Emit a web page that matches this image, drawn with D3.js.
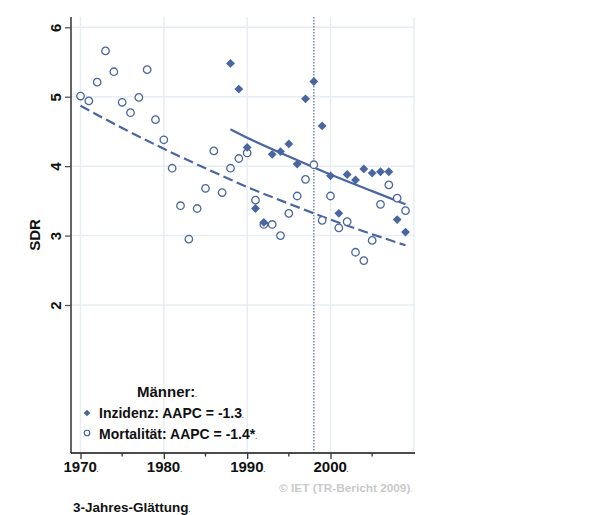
<!DOCTYPE html>
<html>
<head>
<meta charset="utf-8">
<script src="https://cdn.jsdelivr.net/npm/d3@7"></script>
<style>
  html, body { margin: 0; padding: 0; background: #fff; }
  svg, svg text { font-family: "Liberation Sans", Arial, sans-serif; }
  svg { display: block; }
</style>
</head>
<body>
<div id="chart"></div>
<script>
// Mortalität (open circles), 1970-2009
const mortYears = [1970, 1971, 1972, 1973, 1974, 1975, 1976, 1977, 1978, 1979,
                   1980, 1981, 1982, 1983, 1984, 1985, 1986, 1987, 1988, 1989,
                   1990, 1991, 1992, 1993, 1994, 1995, 1996, 1997, 1998, 1999,
                   2000, 2001, 2002, 2003, 2004, 2005, 2006, 2007, 2008, 2009];
const mortValues = [5.01, 4.94, 5.21, 5.66, 5.36, 4.92, 4.77, 4.99, 5.39, 4.67,
                    4.38, 3.97, 3.43, 2.95, 3.39, 3.68, 4.22, 3.62, 3.97, 4.11,
                    4.19, 3.51, 3.16, 3.16, 3.00, 3.32, 3.57, 3.81, 4.02, 3.22,
                    3.57, 3.11, 3.20, 2.76, 2.64, 2.93, 3.45, 3.73, 3.54, 3.36];

// Inzidenz (filled diamonds), 1988-2009
const incYears = [1988, 1989, 1990, 1991, 1992, 1993, 1994, 1995, 1996, 1997, 1998,
                  1999, 2000, 2001, 2002, 2003, 2004, 2005, 2006, 2007, 2008, 2009];
const incValues = [5.48, 5.11, 4.27, 3.39, 3.19, 4.17, 4.21, 4.32, 4.03, 4.97, 5.22,
                   4.58, 3.86, 3.32, 3.88, 3.80, 3.96, 3.90, 3.92, 3.92, 3.23, 3.05];

// trend curves
const mortTrendYears = [1970, 1975, 1980, 1985, 1990, 1995, 2000, 2005, 2009];
const mortTrendValues = [4.87, 4.55, 4.25, 3.97, 3.70, 3.46, 3.23, 3.02, 2.86];
const incTrendYears = [1988, 1990, 1995, 2000, 2005, 2009];
const incTrendValues = [4.53, 4.41, 4.14, 3.88, 3.64, 3.45];

const xMajor = [1970, 1980, 1990, 2000];
const xMinor = [1975, 1985, 1995, 2005];
const xGrid = [1970, 1980, 1990, 2000, 2010];
const yTicks = [2, 3, 4, 5, 6];
const markYear = 1998;

const legendTitle = "Männer:";
const legendLabels = ["Inzidenz: AAPC = -1.3", "Mortalität: AAPC = -1.4*"];
const yTitle = "SDR";
const footLeft = "3-Jahres-Glättung";
const footRight = "© IET (TR-Bericht 2009)";

const W = 592, H = 515;
const blue = "#4a66a0";
const font = "'Liberation Sans', Arial, sans-serif";

const svg = d3.select("#chart").append("svg")
  .attr("width", W).attr("height", H)
  .attr("font-family", font);

const x = d3.scaleLinear().domain([1970, 2000]).range([80.5, 330.5]);
const y = d3.scaleLinear().domain([2, 6]).range([305, 27.3]);
const plot = { left: 71, right: 415, top: 17, bottom: 453 };

// grid
svg.append("g").selectAll("line").data(xGrid).join("line")
  .attr("x1", d => x(d)).attr("x2", d => x(d))
  .attr("y1", plot.top).attr("y2", plot.bottom)
  .attr("stroke", "#e7eef2").attr("stroke-width", 1.5);
svg.append("g").selectAll("line").data(yTicks).join("line")
  .attr("x1", plot.left).attr("x2", plot.right)
  .attr("y1", d => y(d)).attr("y2", d => y(d))
  .attr("stroke", "#e7eef2").attr("stroke-width", 1.5);

// vertical marker at 1998
svg.append("line")
  .attr("x1", x(markYear)).attr("x2", x(markYear))
  .attr("y1", plot.top).attr("y2", plot.bottom)
  .attr("stroke", "#7088b8").attr("stroke-width", 1.5)
  .attr("stroke-dasharray", "1.5,1.5");

// axes
const addDot = sel => sel.append("tspan").attr("font-size", 6).text(".");

const yAxis = svg.append("g")
  .attr("transform", `translate(${plot.left},0)`)
  .call(d3.axisLeft(y).tickValues(yTicks).tickSize(6).tickPadding(8).tickFormat(d3.format("d")))
  .attr("font-family", font).attr("font-size", 15);
yAxis.select(".domain").attr("d", `M0,${plot.top}V${plot.bottom}`).attr("stroke", "#111").attr("stroke-width", 1.3);
yAxis.selectAll(".tick line").attr("stroke", "#555").attr("stroke-width", 1.3);
yAxis.selectAll(".tick text")
  .attr("transform", "rotate(-90)")
  .attr("x", 0).attr("y", -10).attr("dy", 0)
  .attr("text-anchor", "middle")
  .attr("font-size", 15).attr("font-weight", "bold").attr("fill", "#111");

const xAxis = svg.append("g")
  .attr("transform", `translate(0,${plot.bottom})`)
  .call(d3.axisBottom(x).tickValues(xMajor).tickSize(6).tickPadding(4).tickFormat(d3.format("d")))
  .attr("font-family", font).attr("font-size", 15);
xAxis.select(".domain").attr("d", `M${plot.left},0H${plot.right}`).attr("stroke", "#111").attr("stroke-width", 1.3);
xAxis.selectAll(".tick line").attr("stroke", "#333").attr("stroke-width", 1.3);
xAxis.selectAll(".tick text")
  .attr("font-size", 15).attr("font-weight", "bold").attr("fill", "#111")
  .attr("y", 18.5).attr("dy", 0)
  .each(function() { addDot(d3.select(this)); });

svg.append("g").selectAll("line").data(xMinor).join("line")
  .attr("x1", d => x(d)).attr("x2", d => x(d))
  .attr("y1", plot.bottom).attr("y2", plot.bottom + 3.5)
  .attr("stroke", "#333").attr("stroke-width", 1.3);

svg.append("text")
  .attr("transform", `translate(40,235) rotate(-90)`)
  .attr("text-anchor", "middle")
  .attr("font-size", 15).attr("font-weight", "bold").attr("fill", "#111")
  .text(yTitle);

// trend curves
const line = d3.line().x(d => x(d[0])).y(d => y(d[1])).curve(d3.curveMonotoneX);
svg.append("path")
  .datum(mortTrendYears.map((yr, i) => [yr, mortTrendValues[i]]))
  .attr("d", line).attr("fill", "none")
  .attr("stroke", blue).attr("stroke-width", 2.2)
  .attr("stroke-dasharray", "10,4.5");
svg.append("path")
  .datum(incTrendYears.map((yr, i) => [yr, incTrendValues[i]]))
  .attr("d", line).attr("fill", "none")
  .attr("stroke", blue).attr("stroke-width", 2.2);

// points
const circle = d3.symbol().type(d3.symbolCircle).size(44);
const diamond = d3.symbol().type(d3.symbolDiamond2).size(50);

svg.append("g").selectAll("path").data(mortYears.map((yr, i) => [yr, mortValues[i]])).join("path")
  .attr("transform", d => `translate(${x(d[0])},${y(d[1])})`)
  .attr("d", circle).attr("fill", "#fff")
  .attr("stroke", blue).attr("stroke-width", 1.3);

svg.append("g").selectAll("path").data(incYears.map((yr, i) => [yr, incValues[i]])).join("path")
  .attr("transform", d => `translate(${x(d[0])},${y(d[1])})`)
  .attr("d", diamond).attr("fill", blue);

// legend
const lg = svg.append("g").attr("font-weight", "bold").attr("fill", "#111");
lg.append("text").attr("x", 137).attr("y", 397).attr("font-size", 15).text(legendTitle).call(addDot);
lg.append("path").attr("transform", "translate(87,413)")
  .attr("d", d3.symbol().type(d3.symbolDiamond2).size(28)).attr("fill", blue);
lg.append("path").attr("transform", "translate(87,433)")
  .attr("d", d3.symbol().type(d3.symbolCircle).size(24)).attr("fill", "#fff")
  .attr("stroke", blue).attr("stroke-width", 1.2);
legendLabels.forEach((t, i) => {
  lg.append("text").attr("x", 99).attr("y", 418 + i * 21).attr("font-size", 14).text(t).call(addDot);
});

// footer
svg.append("text").attr("x", 412).attr("y", 492).attr("text-anchor", "end")
  .attr("font-size", 11.8).attr("font-weight", "bold").attr("fill", "#c9c9c9")
  .text(footRight).call(addDot);
svg.append("text").attr("x", 73).attr("y", 512)
  .attr("font-size", 13.5).attr("font-weight", "bold").attr("fill", "#111")
  .text(footLeft).call(addDot);
</script>
</body>
</html>
